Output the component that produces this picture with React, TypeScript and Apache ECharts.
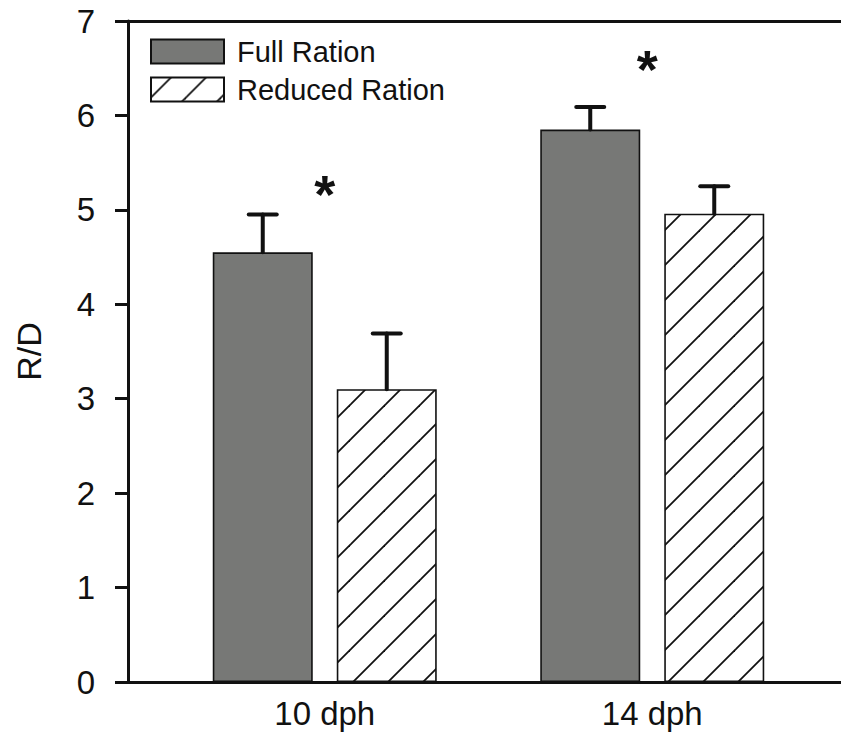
import React, { useEffect, useRef } from "react";
import * as echarts from "echarts";

const categories = ["10 dph", "14 dph"];
const seriesNames = ["Full Ration", "Reduced Ration"];
const fullMeans = [4.55, 5.85];
const fullErrors = [0.4, 0.24];
const reducedMeans = [3.1, 4.96];
const reducedErrors = [0.59, 0.29];
const yTicks = [0, 1, 2, 3, 4, 5, 6, 7];
const significance = [
  { category: 0, value: 5.24 },
  { category: 1, value: 6.57 },
];

const FONT = "'Liberation Sans', Arial, sans-serif";
const INK = "#111111";
const GRAY = "#777876";
const BAR_W = 100;
const GAP_PCT = 24;
const TILE = 35;
const PHASE = 20;

function makeHatch(): HTMLCanvasElement {
  const s = TILE;
  const c = document.createElement("canvas");
  c.width = s;
  c.height = s;
  const ctx = c.getContext("2d")!;
  ctx.fillStyle = "#ffffff";
  ctx.fillRect(0, 0, s, s);
  ctx.strokeStyle = INK;
  ctx.lineWidth = 1.8;
  for (const C of [PHASE - s, PHASE, PHASE + s]) {
    ctx.beginPath();
    ctx.moveTo(C - s - 4, s + 4);
    ctx.lineTo(C + 4, -4);
    ctx.stroke();
  }
  return c;
}

export default function App() {
  const ref = useRef<HTMLDivElement>(null);
  useEffect(() => {
    if (!ref.current) return;
    const chart = echarts.init(ref.current, undefined, { renderer: "svg" });
    const hatch = makeHatch();
    const hatchFill: any = {
      image: hatch,
      repeat: "repeat",
      imageWidth: TILE,
      imageHeight: TILE,
    };
    const offset = (BAR_W + (BAR_W * GAP_PCT) / 100) / 2;
    const errData = [
      ...fullMeans.map((m, i) => [i, m, fullErrors[i], -1]),
      ...reducedMeans.map((m, i) => [i, m, reducedErrors[i], 1]),
    ];
    const starOffsets = [
      [0, 7],
      [-5, 7],
    ];
    const option: any = {
      animation: false,
      backgroundColor: "#ffffff",
      grid: [
        { left: 161, right: 25, top: 21, bottom: 58 },
        { left: 128, right: 0, top: 21, bottom: 58 },
      ],
      legend: {
        data: seriesNames,
        orient: "vertical",
        left: 145,
        top: 32,
        itemWidth: 73,
        itemHeight: 24,
        itemGap: 9,
        icon: "rect",
        textStyle: {
          fontFamily: FONT,
          fontSize: 29,
          color: INK,
          padding: [0, 0, 0, 8],
        },
      },
      xAxis: [
        {
          type: "category",
          gridIndex: 0,
          data: categories,
          axisLine: { show: false },
          axisTick: { show: false },
          axisLabel: {
            fontFamily: FONT,
            fontSize: 33,
            color: INK,
            margin: 15,
          },
        },
        {
          type: "value",
          gridIndex: 1,
          min: 0,
          max: 1,
          axisLine: { show: true, lineStyle: { color: INK, width: 3 } },
          axisTick: { show: false },
          axisLabel: { show: false },
          splitLine: { show: false },
        },
        {
          type: "value",
          gridIndex: 1,
          position: "top",
          min: 0,
          max: 1,
          axisLine: { show: true, lineStyle: { color: INK, width: 3 } },
          axisTick: { show: false },
          axisLabel: { show: false },
          splitLine: { show: false },
        },
      ],
      yAxis: [
        {
          type: "value",
          gridIndex: 0,
          min: 0,
          max: 7,
          show: false,
        },
        {
          type: "value",
          gridIndex: 1,
          min: yTicks[0],
          max: yTicks[yTicks.length - 1],
          interval: 1,
          name: "R/D",
          nameLocation: "middle",
          nameGap: 82,
          nameTextStyle: { fontFamily: FONT, fontSize: 34, color: INK },
          axisLine: { show: true, lineStyle: { color: INK, width: 3 } },
          axisTick: {
            show: true,
            inside: false,
            length: 13,
            lineStyle: { color: INK, width: 3 },
          },
          axisLabel: {
            fontFamily: FONT,
            fontSize: 33,
            color: INK,
            margin: 33,
          },
          splitLine: { show: false },
        },
      ],
      series: [
        {
          name: seriesNames[0],
          type: "bar",
          xAxisIndex: 0,
          yAxisIndex: 0,
          barWidth: BAR_W,
          barGap: GAP_PCT + "%",
          data: fullMeans,
          itemStyle: { color: GRAY, borderColor: INK, borderWidth: 1.6 },
        },
        {
          name: seriesNames[1],
          type: "bar",
          xAxisIndex: 0,
          yAxisIndex: 0,
          barWidth: BAR_W,
          barGap: GAP_PCT + "%",
          data: reducedMeans,
          itemStyle: { color: hatchFill, borderColor: INK, borderWidth: 1.6 },
        },
        {
          type: "custom",
          xAxisIndex: 0,
          yAxisIndex: 0,
          data: errData,
          z: 5,
          renderItem: (params: any, api: any) => {
            const cat = api.value(0);
            const mean = api.value(1);
            const err = api.value(2);
            const side = api.value(3);
            const base = api.coord([cat, mean]);
            const top = api.coord([cat, mean + err]);
            const x = base[0] + side * offset;
            const capHalf = 14;
            const style = { stroke: INK, lineWidth: 4, lineCap: "round" };
            return {
              type: "group",
              children: [
                {
                  type: "line",
                  shape: { x1: x, y1: base[1], x2: x, y2: top[1] },
                  style,
                },
                {
                  type: "line",
                  shape: { x1: x - capHalf, y1: top[1], x2: x + capHalf, y2: top[1] },
                  style,
                },
              ],
            };
          },
        },
        {
          type: "scatter",
          xAxisIndex: 0,
          yAxisIndex: 0,
          symbolSize: 0,
          itemStyle: { opacity: 1, color: INK },
          data: significance.map((s, i) => ({
            value: [s.category, s.value],
            label: { offset: starOffsets[i] },
          })),
          label: {
            show: true,
            position: "inside",
            formatter: "*",
            fontFamily: FONT,
            fontWeight: "bold",
            fontSize: 54,
            color: INK,
            opacity: 1,
            textBorderWidth: 0,
          },
          z: 6,
        },
      ],
    };
    chart.setOption(option);
    return () => chart.dispose();
  }, []);
  return (
    <div
      ref={ref}
      style={{ position: "fixed", left: 0, top: 0, width: 841, height: 740, background: "#fff" }}
    />
  );
}
